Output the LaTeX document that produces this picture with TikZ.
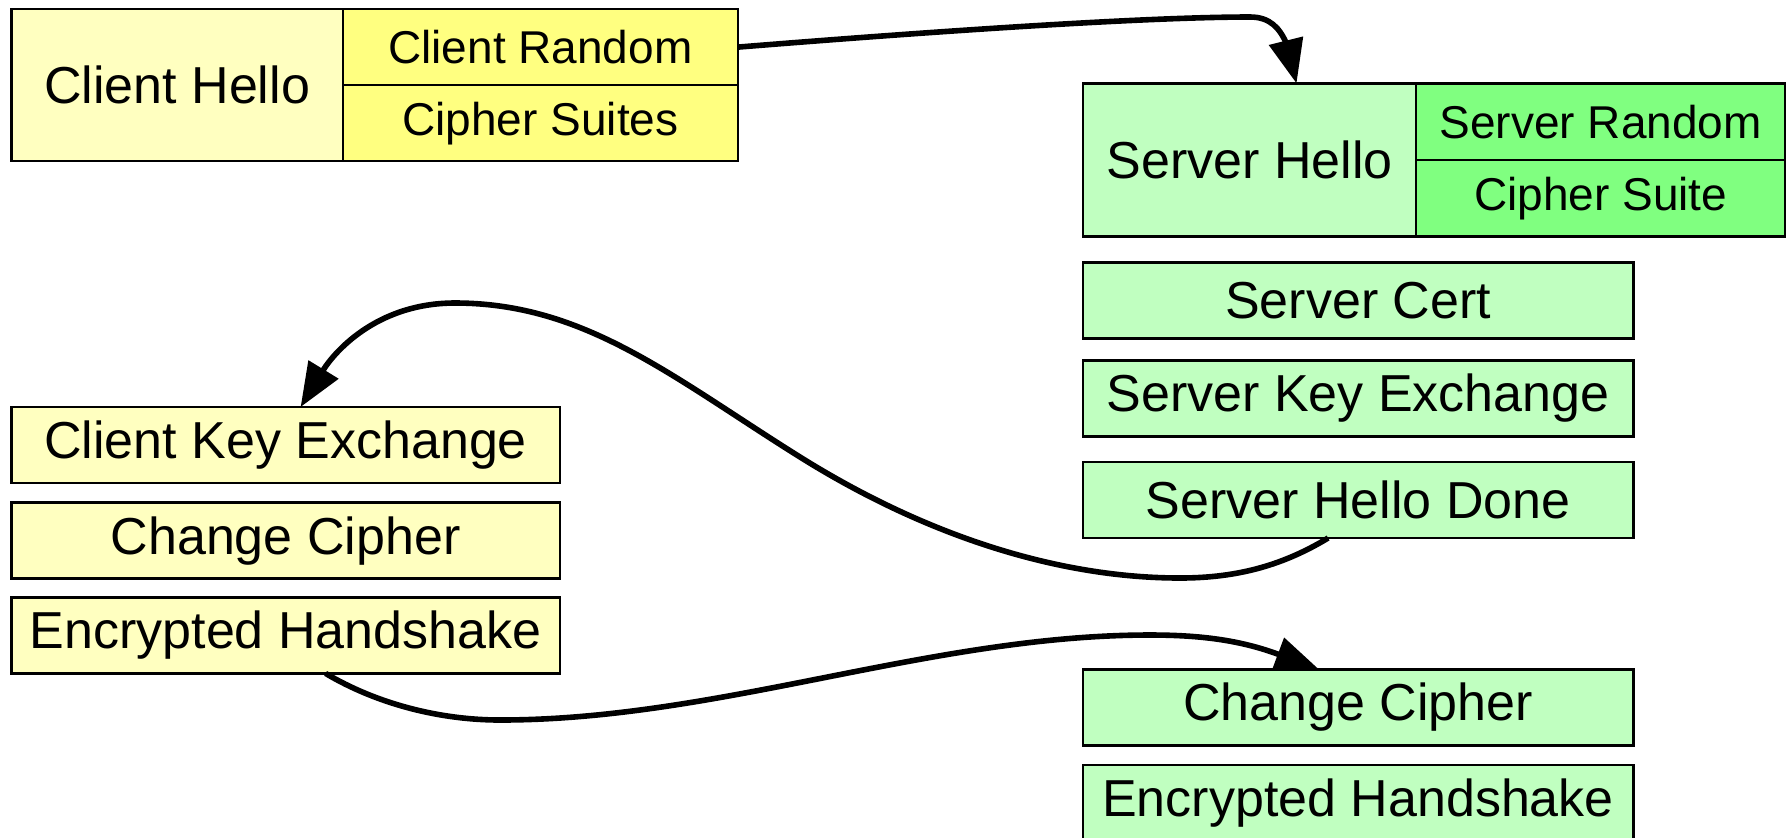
\documentclass[tikz,border=0pt]{standalone}
\usepackage{fontspec}
\setmainfont{Liberation Sans}
\usetikzlibrary{arrows.meta,calc}
\definecolor{clientlight}{RGB}{255,255,192}
\definecolor{clientdark}{RGB}{255,255,128}
\definecolor{serverlight}{RGB}{192,255,192}
\definecolor{serverdark}{RGB}{128,255,128}
\tikzset{
  msg/.style={draw=black, line width=1.2pt, rectangle, anchor=north west,
    inner sep=0pt, outer sep=0pt, text=black, font=\fontsize{26}{30}\selectfont},
  field/.style={msg, font=\fontsize{23}{27}\selectfont},
  cmsg/.style={msg, fill=clientlight, minimum width=274.2pt, minimum height=38pt},
  smsg/.style={msg, fill=serverlight, minimum width=275.3pt, minimum height=38pt},
  flow/.style={line width=2.8pt, -{Triangle[length=22pt,width=17pt]}},
}
\begin{document}
\begin{tikzpicture}[x=0.5pt,y=-0.5pt]
\useasboundingbox (0,0) rectangle (1791,837);
\clip (0,0) rectangle (1791,837);
\fill[white] (0,0) rectangle (1791,837);

% client hello with its two fields
\node[msg, fill=clientlight, minimum width=165.7pt, minimum height=76pt] (ch) at (11.4,9.1) {Client Hello};
\node[field, fill=clientdark, minimum width=197.6pt, minimum height=38pt] (cr) at (ch.north east) {Client Random};
\node[field, fill=clientdark, minimum width=197.6pt, minimum height=38pt] (cs) at (cr.south west) {Cipher Suites};

% server hello with its two fields
\node[msg, fill=serverlight, minimum width=166.7pt, minimum height=76.5pt] (sh) at (1082.8,83.4) {Server Hello};
\node[field, fill=serverdark, minimum width=184.5pt, minimum height=38.25pt] (sr) at (sh.north east) {Server Random};
\node[field, fill=serverdark, minimum width=184.5pt, minimum height=38.25pt] (ss) at (sr.south west) {Cipher Suite};

% server messages
\node[smsg] (scert) at (1082.8,262.5) {Server Cert};
\node[smsg] (ske) at (1082.8,360.5) {Server Key Exchange};
\node[smsg] (shd) at (1082.8,462) {Server Hello Done};
\node[smsg] (scc) at (1082.8,669.5) {Change Cipher};
\node[smsg] (seh) at (1082.8,765) {Encrypted Handshake};

% client messages
\node[cmsg] (cke) at (11.4,407) {Client Key Exchange};
\node[cmsg] (ccc) at (11.4,502.6) {Change Cipher};
\node[cmsg] (ceh) at (11.4,597.4) {Encrypted Handshake};

% connector end points
\coordinate (t1) at ($(sh.north)+(47,0)$);
\coordinate (s2) at ($(shd.south)+(-30,0)$);
\coordinate (t2) at ($(cke.north)+(15,0)$);
\coordinate (s3) at ($(ceh.south)+(40,0)$);
\coordinate (t3) at ($(scc.north)+(-39,0)$);

\draw[flow] (cr.east) .. controls (950,30) and (1150,17) .. (1250,17)
  .. controls (1270,17) and (1280,28) .. (1287,45) -- (t1);
\draw[flow] (s2) .. controls (1285,564) and (1240,578) .. (1180,578)
  .. controls (1060,578) and (928,537) .. (800,457)
  .. controls (672,377) and (585,303) .. (455,303)
  .. controls (375,303) and (333,354) .. (t2);
\draw[flow] (s3) .. controls (377,704) and (440,720) .. (500,720)
  .. controls (720,720) and (930,635) .. (1150,635)
  .. controls (1200,635) and (1240,640) .. (t3);
\end{tikzpicture}
\end{document}
